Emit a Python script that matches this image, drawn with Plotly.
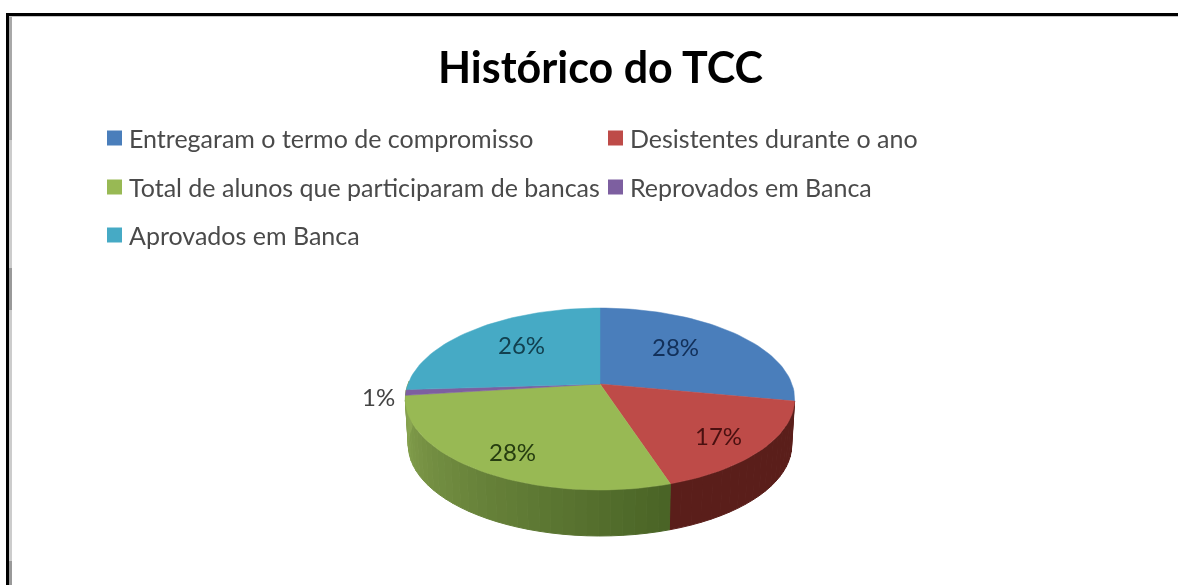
import math
import plotly.graph_objects as go

TITLE = "Histórico do TCC"
CATEGORIES = ["Entregaram o termo de compromisso", "Desistentes durante o ano",
              "Total de alunos que participaram de bancas", "Reprovados em Banca", "Aprovados em Banca"]
SHARES = [28, 17, 28, 1, 26]
COLORS = ["#4a7ebb", "#be4b48", "#98b954", "#7d5fa0", "#46aac5"]
LABEL_COLORS = ["#12305a", "#4a1010", "#263d10", "#444444", "#12404f"]
SIDE_LEFT = {1: "#5a1e1a", 2: "#8aa651"}
SIDE_RIGHT = {1: "#5a1e1a", 2: "#4a6426"}

W, H = 1178, 585
CX, CY, A, B, K, DEPTH = 600, 384, 192, 88.5, 0.165, 46
LEGEND_XY = [(107, 138), (608, 138), (107, 187), (608, 187), (107, 235)]
LABEL_XY = [(675, 346), (718, 435), (512, 451), (378, 396), (521, 344)]


def project(deg, r=1.0):
    t = math.radians(deg)
    u, v = r * math.sin(t), r * math.cos(t)
    d = 1 + K * v
    return CX + A * u / d, CY - B * v / d


def lerp(c1, c2, f):
    a = [int(c1[i:i + 2], 16) for i in (1, 3, 5)]
    b = [int(c2[i:i + 2], 16) for i in (1, 3, 5)]
    return "#%02x%02x%02x" % tuple(round(p + (q - p) * f) for p, q in zip(a, b))


total = sum(SHARES)
edges = [0]
for s in SHARES:
    edges.append(edges[-1] + s / total * 360)

fig = go.Figure()

# side wall: vertical strips along the front rim (red and green slices)
for i in (1, 2):
    lo, hi = edges[i], edges[i + 1] if i == 1 else 272
    n = max(2, int((hi - lo) / 3))
    for j in range(n):
        a0 = lo + (hi - lo) * j / n
        a1 = lo + (hi - lo) * (j + 1) / n
        top = [project(a0), project(a1)]
        bot = [project(a1), project(a0)]
        xs = [p[0] for p in top] + [CX + (p[0] - CX) * 0.985 for p in bot]
        ys = [p[1] for p in top] + [p[1] + DEPTH for p in bot]
        f = j / max(1, n - 1)  # 0 at the right end of the strip run, 1 at its left end
        c = lerp(SIDE_RIGHT[i], SIDE_LEFT[i], f)
        fig.add_trace(go.Scatter(x=xs + xs[:1], y=ys + ys[:1], mode="lines", fill="toself",
                                 line=dict(color=c, width=1), fillcolor=c,
                                 hoverinfo="skip", showlegend=False))

# top face wedges
for i, col in enumerate(COLORS):
    n = max(2, int((edges[i + 1] - edges[i]) / 2))
    pts = [(CX, CY)] + [project(edges[i] + (edges[i + 1] - edges[i]) * j / n) for j in range(n + 1)] + [(CX, CY)]
    fig.add_trace(go.Scatter(x=[p[0] for p in pts], y=[p[1] for p in pts], mode="lines", fill="toself",
                             line=dict(color=col, width=0.5), fillcolor=col,
                             name=CATEGORIES[i], showlegend=False,
                             text=f"{SHARES[i]}%", hoverinfo="name+text"))

# legend keys
for i, (lx, ly) in enumerate(LEGEND_XY):
    fig.add_trace(go.Scatter(x=[lx + 7.5], y=[ly], mode="markers", showlegend=False, hoverinfo="skip",
                             marker=dict(symbol="square", size=15, color=COLORS[i])))

ann = [dict(text=f"<b>{TITLE}</b>", x=600, y=66, showarrow=False,
            font=dict(family="Lato", size=43, color="#000000"))]
for i, (lx, ly) in enumerate(LEGEND_XY):
    ann.append(dict(text=CATEGORIES[i], x=lx + 20, y=ly, xanchor="left", showarrow=False,
                    font=dict(family="Lato", size=25, color="#4a4a4a")))
for i, (lx, ly) in enumerate(LABEL_XY):
    ann.append(dict(text=f"{SHARES[i]}%", x=lx, y=ly, showarrow=False,
                    font=dict(family="Lato", size=24, color=LABEL_COLORS[i])))

shapes = [
    dict(type="rect", x0=9, x1=12, y0=16, y1=H, fillcolor="#cccccc", line_width=0),
    dict(type="rect", x0=9, x1=12, y0=16, y1=140, fillcolor="#a8a8a8", line_width=0),
    dict(type="rect", x0=9, x1=12, y0=268, y1=310, fillcolor="#999999", line_width=0),
    dict(type="rect", x0=9, x1=12, y0=561, y1=H, fillcolor="#999999", line_width=0),
    dict(type="rect", x0=9, x1=W, y0=15, y1=17, fillcolor="#c4c4c4", line_width=0),
    dict(type="rect", x0=6, x1=9, y0=13, y1=H, fillcolor="#000000", line_width=0),
    dict(type="rect", x0=6, x1=W, y0=13, y1=16, fillcolor="#000000", line_width=0),
]

fig.update_layout(
    width=W, height=H, margin=dict(l=0, r=0, t=0, b=0), paper_bgcolor="white", plot_bgcolor="white",
    xaxis=dict(range=[0, W], visible=False, fixedrange=True),
    yaxis=dict(range=[H, 0], visible=False, fixedrange=True),
    annotations=ann, shapes=shapes, showlegend=False,
)
fig.write_html("out.html", config={"displayModeBar": False},
               post_script="document.body.style.margin='0';document.body.style.overflow='hidden';"
                           "document.querySelectorAll('.annotation-text-g, .scatterlayer')"
                           ".forEach(function(e){e.style.filter='blur(0.7px)';});")
